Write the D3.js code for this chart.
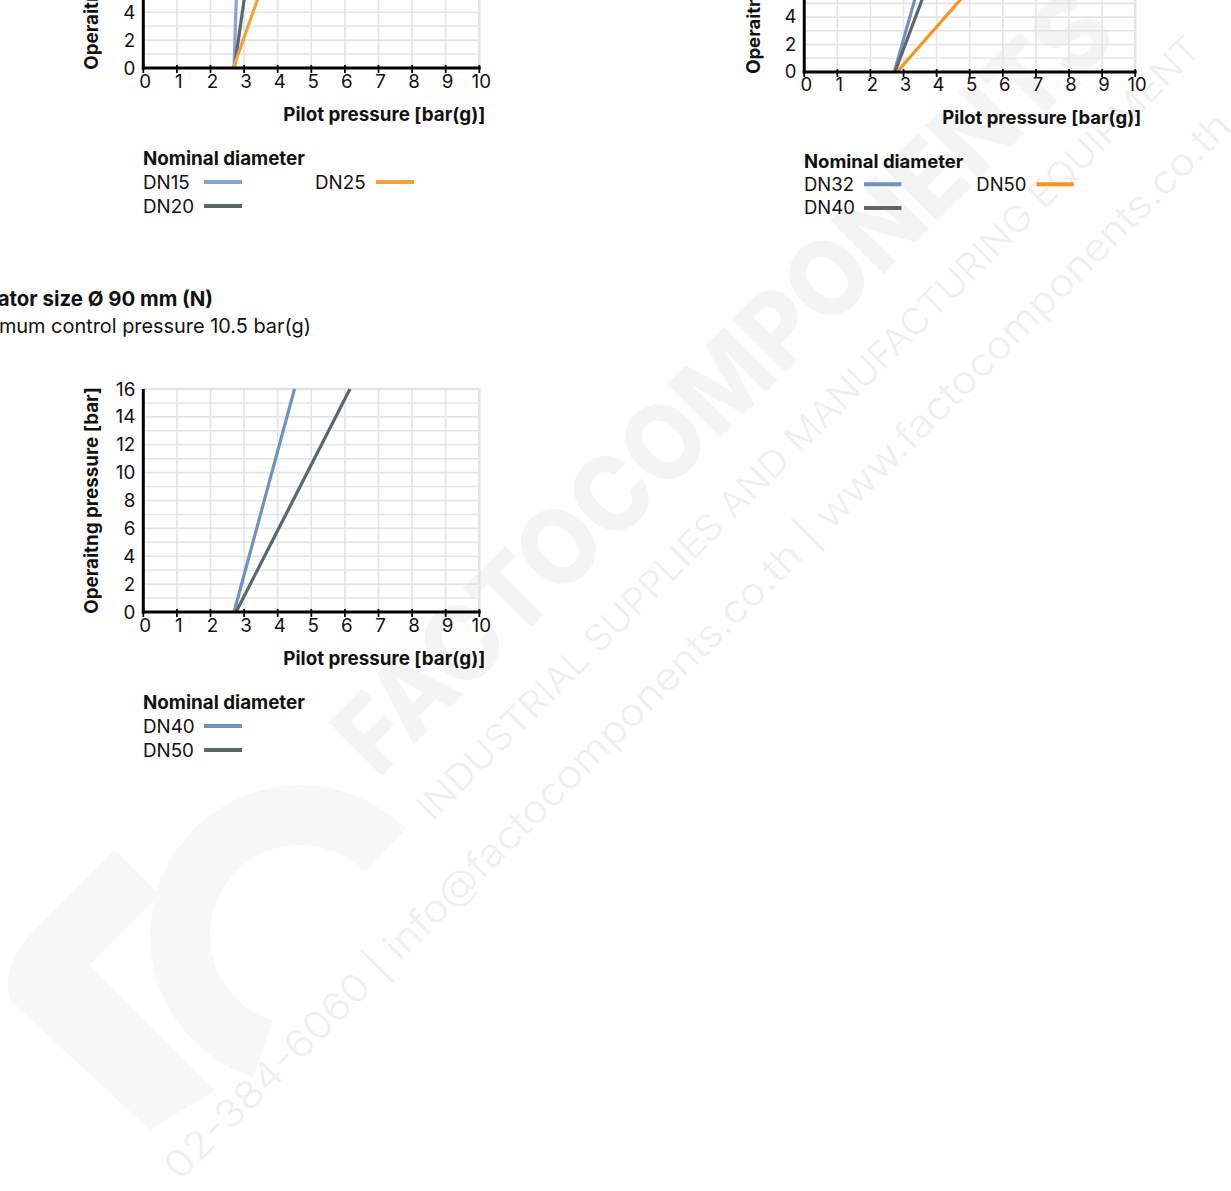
<!DOCTYPE html>
<html><head><meta charset="utf-8">
<script src="https://cdn.jsdelivr.net/npm/d3@7"></script>
<style>
html,body{margin:0;padding:0;background:#fff;overflow:hidden}
svg{display:block;font-family:Inter,"Noto Sans",sans-serif}
</style>
</head><body>
<svg id="c" width="1231" height="1191"></svg>
<script>
// ---------- data ----------
const pilotTicks = [0,1,2,3,4,5,6,7,8,9,10];
const operatingTicks = [0,2,4,6,8,10,12,14,16];
const pilotDomain = [0,10];
const operatingDomain = [0,16];

// chart A (top-left, partially visible)
const namesA = ["DN15","DN20","DN25"];
const pilotStartA = [2.70, 2.71, 2.68];
const pilotEndA   = [2.92, 3.66, 5.02];
const opEndA      = [16, 16, 16];

// chart B (top-right, partially visible)
const namesB = ["DN32","DN40","DN50"];
const pilotStartB = [2.72, 2.74, 2.80];
const pilotEndB   = [4.60, 5.23, 8.63];
const opEndB      = [16, 16, 16];

// chart C (actuator 90 mm)
const namesC = ["DN40","DN50"];
const pilotStartC = [2.70, 2.76];
const pilotEndC   = [4.50, 6.15];
const opEndC      = [16, 16];

const titleC = "Actuator size Ø 90 mm (N)";
const subtitleC = "Maximum control pressure 10.5 bar(g)";
const xTitle = "Pilot pressure [bar(g)]";
const yTitle = "Operaitng pressure [bar]";
const legendTitle = "Nominal diameter";

const watermark1 = "FACTOCOMPONENTS";
const watermark2 = "INDUSTRIAL SUPPLIES AND MANUFACTURING EQUIPMENT";
const watermark3 = "02-384-6060 | info@factocomponents.co.th | www.factocomponents.co.th";

// ---------- drawing ----------
const svg = d3.select("#c");
svg.append("rect").attr("width",1231).attr("height",1191).attr("fill","#fff");

// faint watermark
const wm = svg.append("g");
const arc = d3.arc();
wm.append("path")
  .attr("transform","translate(300,935)")
  .attr("d", arc({innerRadius:90, outerRadius:150, startAngle:-Math.PI*0.9, endAngle:Math.PI*0.25}))
  .attr("fill","#f7f7f7");
wm.append("path")
  .attr("d","M10,1000 Q0,965 35,930 L115,850 L160,895 L90,965 L215,1090 L150,1130 Z")
  .attr("fill","#f7f7f7");
wm.append("text").attr("transform","translate(378,780) rotate(-45)")
  .attr("font-size",104).attr("font-weight",800).attr("fill","#f4f4f4")
  .attr("textLength",1050).attr("lengthAdjust","spacingAndGlyphs").text(watermark1);
wm.append("text").attr("transform","translate(432,822) rotate(-45)")
  .attr("font-size",36).attr("font-weight",300).attr("fill","#efefef")
  .attr("textLength",1090).attr("lengthAdjust","spacingAndGlyphs").text(watermark2);
wm.append("text").attr("transform","translate(180,1182) rotate(-45)")
  .attr("font-size",38).attr("font-weight",300).attr("fill","#efefef")
  .attr("textLength",1490).attr("lengthAdjust","spacingAndGlyphs").text(watermark3);

const X0 = 143.3, X1 = 479.3, Y0 = 612, Y1 = 389;
const FS = 18.8;

function drawChart(tx, ty, s, names, starts, ends, opEnds, colors, legendPos, titles) {
  const g = svg.append("g").attr("transform",`translate(${tx},${ty}) scale(${s})`);
  const x = d3.scaleLinear().domain(pilotDomain).range([X0,X1]);
  const y = d3.scaleLinear().domain(operatingDomain).range([Y0,Y1]);

  if (titles) {
    g.append("text").attr("x",213).attr("y",306).attr("text-anchor","end")
      .attr("font-size",20.4).attr("font-weight",700).attr("fill","#111").text(titles[0]);
    g.append("text").attr("x",311).attr("y",333).attr("text-anchor","end")
      .attr("font-size",19.9).attr("fill","#111").text(titles[1]);
  }

  // grid
  const grid = g.append("g").attr("stroke","#e4e4e4").attr("stroke-width",1.6);
  grid.selectAll("line.h").data(d3.range(0,17,1)).join("line")
    .attr("x1",x(0)).attr("x2",x(10)).attr("y1",d=>y(d)).attr("y2",d=>y(d));
  grid.selectAll("line.v").data(pilotTicks).join("line")
    .attr("x1",d=>x(d)).attr("x2",d=>x(d)).attr("y1",y(0)).attr("y2",y(16));
  grid.append("line").attr("x1",x(10)).attr("x2",x(10)).attr("y1",y(0)).attr("y2",y(16)).attr("stroke-width",2.4);
  grid.append("line").attr("x1",x(0)).attr("x2",x(10)).attr("y1",y(16)).attr("y2",y(16)).attr("stroke-width",2.4);

  // series
  const line = d3.line().x(d=>x(d[0])).y(d=>y(d[1]));
  names.forEach((n,i)=>{
    g.append("path").attr("d",line([[starts[i],0],[ends[i],opEnds[i]]]))
      .attr("fill","none").attr("stroke",colors[i]).attr("stroke-width",3.2);
  });

  // axes
  g.append("line").attr("x1",x(0)).attr("x2",x(0)).attr("y1",y(0)+1.5).attr("y2",y(16))
    .attr("stroke","#000").attr("stroke-width",3);
  g.append("line").attr("x1",x(0)-1.5).attr("x2",x(10)+1.5).attr("y1",y(0)).attr("y2",y(0))
    .attr("stroke","#000").attr("stroke-width",3);
  g.selectAll("line.tk").data(pilotTicks).join("line")
    .attr("x1",d=>x(d)).attr("x2",d=>x(d)).attr("y1",y(0)-3).attr("y2",y(0)+5)
    .attr("stroke","#000").attr("stroke-width",1.8);

  g.selectAll("text.xt").data(pilotTicks).join("text")
    .attr("x",d=>x(d)+2).attr("y",y(0)+19.5).attr("text-anchor","middle")
    .attr("font-size",FS).attr("fill","#111").text(d=>d);
  g.selectAll("text.yt").data(operatingTicks).join("text")
    .attr("x",x(0)-8).attr("y",d=>y(d)+6.5).attr("text-anchor","end")
    .attr("font-size",FS).attr("fill","#111").text(d=>d);

  g.append("text").attr("x",x(10)+6).attr("y",Y0+53).attr("text-anchor","end")
    .attr("font-size",FS).attr("font-weight",700).attr("fill","#111").text(xTitle);
  g.append("text").attr("transform",`translate(98,${(Y0+Y1)/2}) rotate(-90)`)
    .attr("text-anchor","middle").attr("font-size",FS).attr("font-weight",700)
    .attr("fill","#111").text(yTitle);

  // legend
  g.append("text").attr("x",143).attr("y",709).attr("font-size",FS).attr("font-weight",700)
    .attr("fill","#111").text(legendTitle);
  names.forEach((n,i)=>{
    const [cx, row] = legendPos[i];
    const ly = 726 + row*24;
    g.append("text").attr("x",cx).attr("y",ly+6.5).attr("font-size",FS).attr("fill","#111").text(n);
    g.append("line").attr("x1",cx+61).attr("x2",cx+99).attr("y1",ly).attr("y2",ly)
      .attr("stroke",colors[i]).attr("stroke-width",4);
  });
}

const blue = "#7192bf", gray = "#5c676d";
drawChart(0, -544, 1, namesA, pilotStartA, pilotEndA, opEndA,
  ["#86a4d2", gray, "#f2a23a"], [[143,0],[143,1],[315,0]], null);
drawChart(663.1, -530.8, 0.985, namesB, pilotStartB, pilotEndB, opEndB,
  [blue, gray, "#f7931e"], [[143,0],[143,1],[318,0]], null);
drawChart(0, 0, 1, namesC, pilotStartC, pilotEndC, opEndC,
  [blue, gray], [[143,0],[143,1]], [titleC, subtitleC]);
</script>
</body></html>
